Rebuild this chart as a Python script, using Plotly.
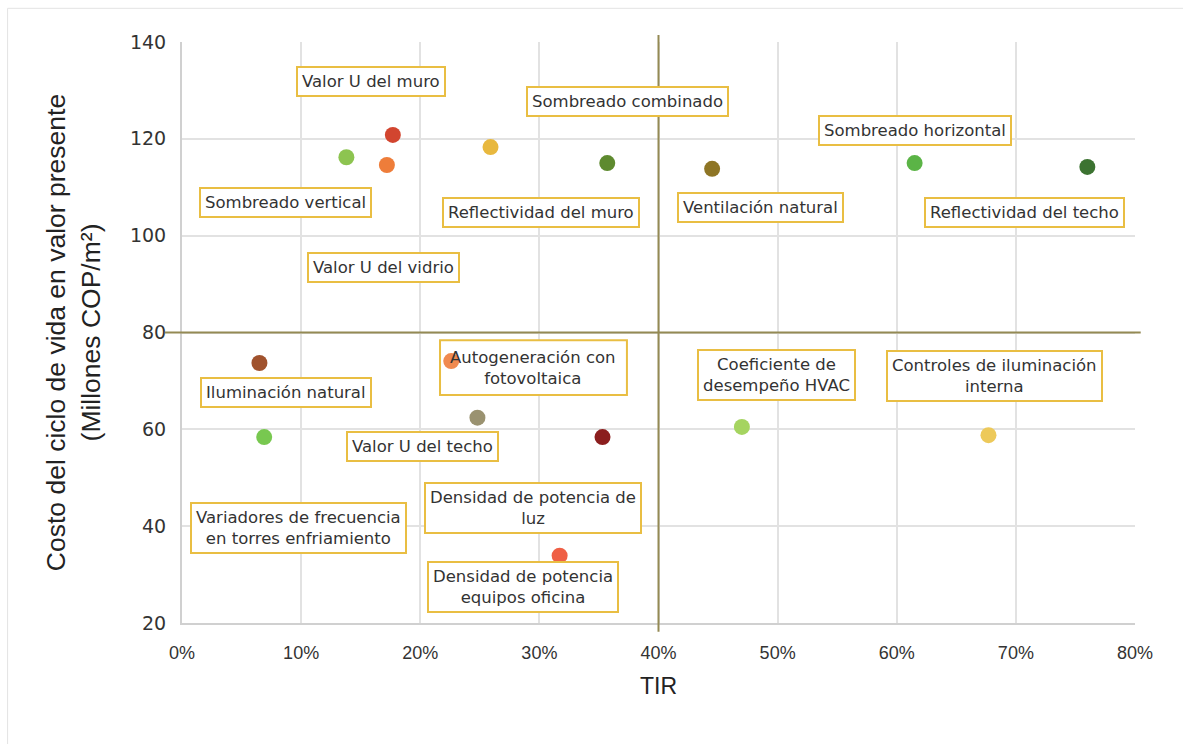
import plotly.graph_objects as go

# Measures and their TIR / life-cycle cost
medidas = [
    "Valor U del muro", "Sombreado vertical", "Valor U del vidrio", "Reflectividad del muro",
    "Sombreado combinado", "Ventilación natural", "Sombreado horizontal", "Reflectividad del techo",
    "Iluminación natural", "Autogeneración con fotovoltaica", "Valor U del techo",
    "Variadores de frecuencia en torres enfriamiento", "Densidad de potencia de luz",
    "Coeficiente de desempeño HVAC", "Controles de iluminación interna",
    "Densidad de potencia equipos oficina",
]
tir = [0.177, 0.138, 0.172, 0.259, 0.357, 0.445, 0.615, 0.760,
       0.065, 0.226, 0.248, 0.069, 0.353, 0.470, 0.677, 0.317]
costo = [120.8, 116.2, 114.6, 118.3, 115.0, 113.8, 115.0, 114.2,
         73.7, 74.1, 62.4, 58.4, 58.4, 60.5, 58.8, 33.9]
colores = ["#D2452F", "#8DC450", "#EE7D3A", "#E8B83E", "#5E8A2F", "#8E7525", "#5BB446", "#3C7331",
           "#A0522D", "#F08A50", "#9A9270", "#78C850", "#8B1E1E", "#A5D460", "#EDC95A", "#EF5F45"]

# Label box text and placement
etiquetas = [
    "Valor U del muro", "Sombreado vertical", "Valor U del vidrio", "Reflectividad del muro",
    "Sombreado combinado", "Ventilación natural", "Sombreado horizontal", "Reflectividad del techo",
    "Iluminación natural", "Autogeneración con<br>fotovoltaica", "Valor U del techo",
    "Variadores de frecuencia<br>en torres enfriamiento", "Densidad de potencia de<br>luz",
    "Coeficiente de<br>desempeño HVAC", "Controles de iluminación<br>interna",
    "Densidad de potencia<br>equipos oficina",
]
etiqueta_x = [0.159, 0.087, 0.169, 0.301, 0.374, 0.486, 0.615, 0.707,
              0.087, 0.295, 0.202, 0.098, 0.295, 0.499, 0.682, 0.286]
etiqueta_y = [131.9, 106.8, 93.5, 104.7, 127.8, 105.9, 121.8, 104.7,
              67.7, 72.9, 56.4, 39.6, 43.8, 71.2, 71.0, 27.5]

# This label's box sits under its own marker, so it is drawn as a shape below the trace
caja_bajo_marcador = {9: (0.2166, 0.3735, 67.1, 78.4)}

umbral_tir = 0.40
umbral_costo = 80

fig = go.Figure()
fig.add_trace(go.Scatter(
    x=tir, y=costo, mode="markers",
    marker=dict(size=16, color=colores),
    text=medidas, hoverinfo="text", showlegend=False,
))

borde = "#E9BE43"
label_font = dict(family="DejaVu Sans", size=16.5, color="#333333")
for i, (t, lx, ly) in enumerate(zip(etiquetas, etiqueta_x, etiqueta_y)):
    if i in caja_bajo_marcador:
        x0, x1, y0, y1 = caja_bajo_marcador[i]
        fig.add_shape(type="rect", xref="x", yref="y", x0=x0, x1=x1, y0=y0, y1=y1,
                      fillcolor="white", line=dict(color=borde, width=2), layer="between")
        fig.add_annotation(x=(x0 + x1) / 2, y=(y0 + y1) / 2, text=t, showarrow=False,
                           font=label_font, align="center")
    else:
        fig.add_annotation(
            x=lx, y=ly, text=t, showarrow=False, font=label_font,
            bgcolor="white", bordercolor=borde, borderwidth=2, borderpad=4,
            align="center",
        )

line_col = "#948A54"
# Quadrant dividers
fig.add_shape(type="line", xref="x", yref="paper", x0=umbral_tir, x1=umbral_tir,
              y0=-0.015, y1=1.012, line=dict(color=line_col, width=2), layer="above")
fig.add_shape(type="line", xref="paper", yref="y", x0=-0.018, x1=1.006,
              y0=umbral_costo, y1=umbral_costo, line=dict(color=line_col, width=2), layer="above")

# Outer frame
fig.add_shape(type="rect", xref="paper", yref="paper", x0=-0.183, x1=1.06, y0=-0.22, y1=1.058,
              line=dict(color="#E3E3E3", width=1), layer="below")

fig.update_layout(
    width=1183, height=744,
    margin=dict(l=182, r=48, t=42, b=121),
    paper_bgcolor="white", plot_bgcolor="white",
    xaxis=dict(
        range=[0, 0.8], dtick=0.1, tickformat=".0%",
        showgrid=True, gridcolor="#E2E2E2", gridwidth=2,
        showline=True, linecolor="#D0D0D0", linewidth=2,
        zeroline=False, ticks="", ticklabelstandoff=12,
        tickfont=dict(family="Liberation Sans Narrow, Liberation Sans", size=18, color="#333333"),
        title=dict(text="TIR", font=dict(family="Liberation Sans Narrow, Liberation Sans", size=23, color="#222222"),
                   standoff=16),
    ),
    yaxis=dict(
        range=[20, 140], dtick=20,
        showgrid=True, gridcolor="#E2E2E2", gridwidth=2,
        showline=True, linecolor="#D0D0D0", linewidth=2,
        zeroline=False, ticks="", ticklabelstandoff=10,
        tickfont=dict(family="DejaVu Sans", size=19, color="#333333"),
        title=dict(text="Costo del ciclo de vida en valor presente<br>(Millones COP/m²)",
                   font=dict(family="Liberation Sans", size=26.5, color="#222222"),
                   standoff=22),
    ),
)

fig.write_html("out.html")
